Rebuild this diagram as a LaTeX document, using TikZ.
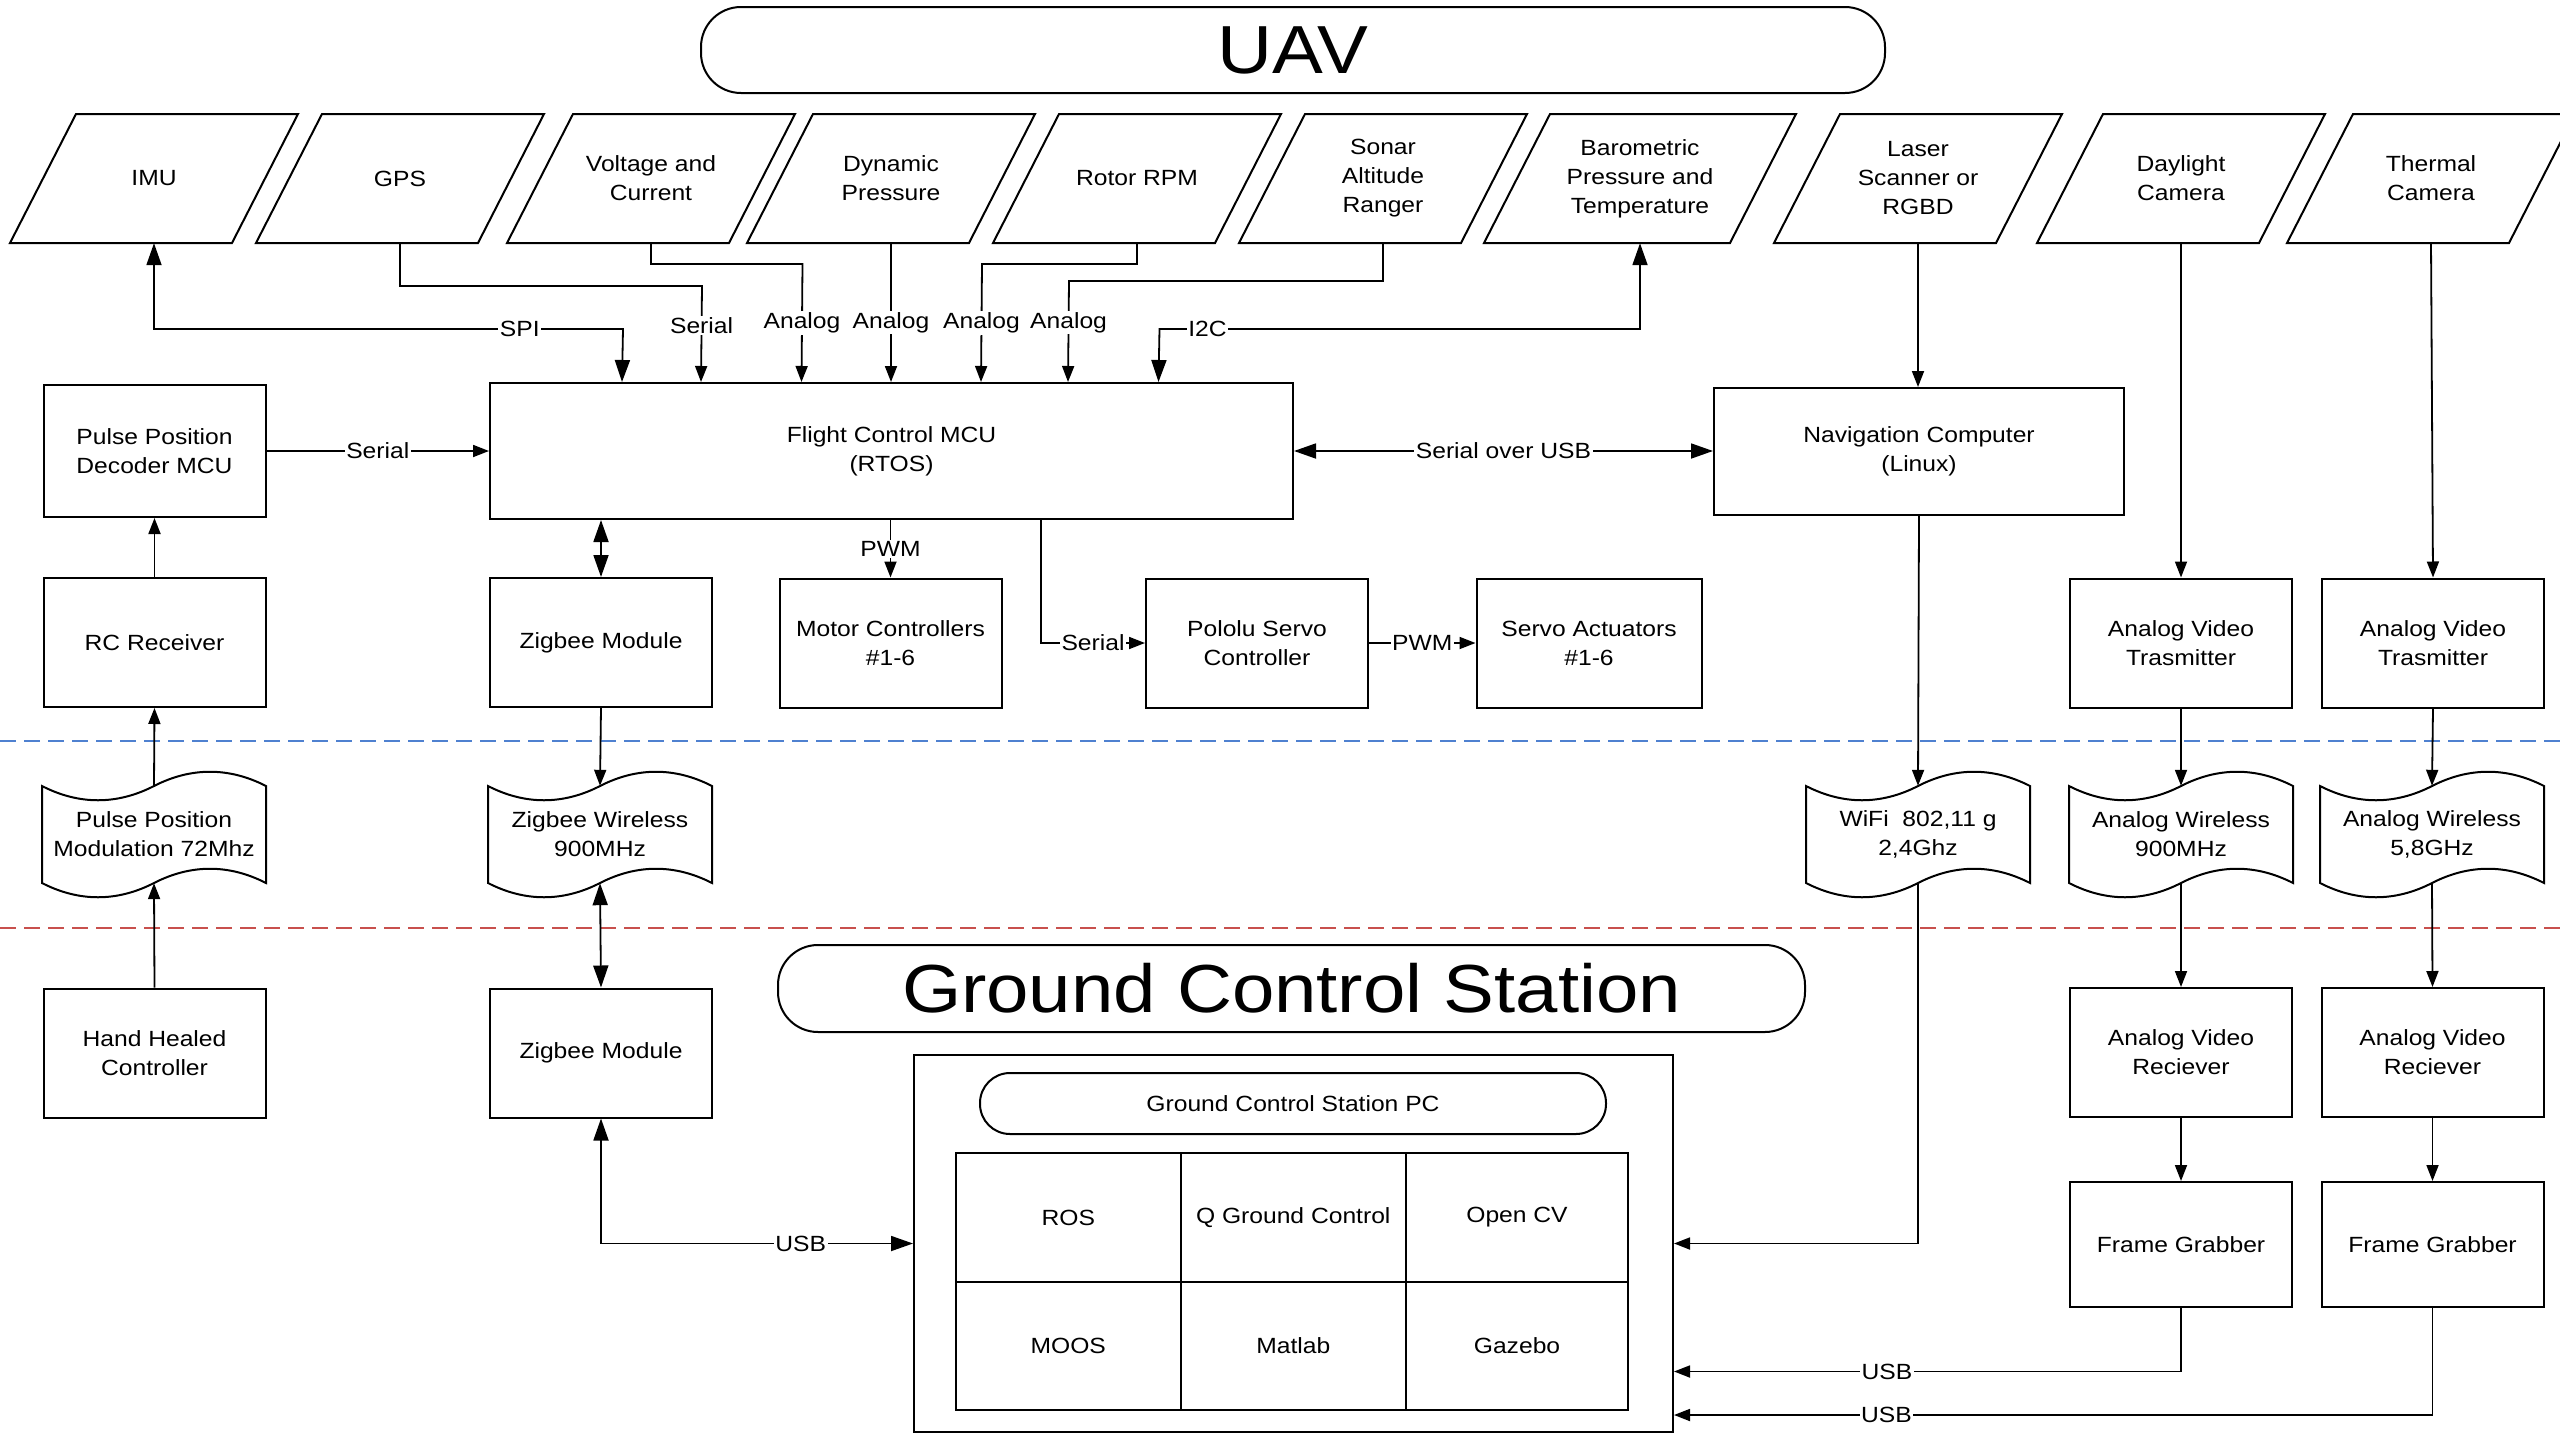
\documentclass[tikz,border=0pt]{standalone}
\usepackage{fontspec}
\setmainfont{Liberation Sans}[FakeStretch=1.12]
\usetikzlibrary{arrows.meta}
\newcommand\lbl{\fontsize{22}{29}\selectfont}
\newcommand\ttl{\fontsize{68}{80}\selectfont}
\definecolor{sepblue}{HTML}{4F81D0}
\definecolor{sepred}{HTML}{C8504D}

\tikzset{
  box/.style={draw, line width=2pt, align=center, font=\lbl,
    minimum width=222pt, minimum height=129pt, inner sep=2pt},
  shapelbl/.style={align=center, font=\lbl, inner sep=0pt, minimum width=200pt},
  outline/.style={line width=2pt, line join=miter},
  arr/.style={line width=1.8pt, -{Triangle[length=16pt,width=12pt]}},
  biarr/.style={line width=1.8pt,
    {Triangle[length=22pt,width=15pt]}-{Triangle[length=22pt,width=15pt]}},
  lab/.style={fill=white, inner sep=1.5pt, font=\lbl},
  pill/.style={draw, line width=2pt, rounded corners=40pt, align=center},
  sep/.style={line width=2.4pt, dash pattern=on 16pt off 8pt},
  cell/.style={draw, line width=2pt, font=\lbl, inner sep=2pt},
}

% sensor parallelogram: name, centre x, half width, text
\newcommand\sensor[4]{%
  \draw[outline] (#2-#3+33,114) -- (#2+#3+33,114) -- (#2+#3-33,243)
    -- (#2-#3-33,243) -- cycle;
  \node[shapelbl, minimum height=129pt] (#1) at (#2,178.5) {#4};}

% radio link (wavy flag): name, centre x, text
\newcommand\radio[3]{%
  \draw[outline] (#2-112,786) .. controls (#2-75,805) and (#2-37,805) .. (#2,786)
    .. controls (#2+37,767) and (#2+75,767) .. (#2+112,786) -- (#2+112,883)
    .. controls (#2+75,864) and (#2+37,864) .. (#2,883)
    .. controls (#2-37,902) and (#2-75,902) .. (#2-112,883) -- cycle;
  \node[shapelbl, minimum height=97pt] (#1) at (#2,834.5) {#3};}

\begin{document}
\begin{tikzpicture}[x=1pt,y=-1pt]
\useasboundingbox (0,0) rectangle (2560,1440);
\fill[white] (0,0) rectangle (2560,1440);

% boundaries between airborne part, radio links and ground part
\draw[sep, sepblue] (0,741) -- (2560,741);
\draw[sep, sepred] (0,928) -- (2560,928);

% titles
\node[pill, minimum width=1184pt, minimum height=86pt, font=\ttl] (uav) at (1293,50) {UAV};
\node[pill, minimum width=1027pt, minimum height=87pt, font=\ttl] (gcstitle) at (1291.5,988.5) {Ground Control Station};

% sensors
\sensor{imu}{154}{111}{IMU}
\sensor{gps}{400}{111}{GPS}
\sensor{volt}{651}{111}{Voltage and\\Current}
\sensor{dyn}{891}{111}{Dynamic\\Pressure}
\sensor{rpm}{1137}{111}{Rotor RPM}
\sensor{sonar}{1383}{111}{Sonar\\Altitude\\Ranger}
\sensor{baro}{1640}{123}{Barometric\\Pressure and\\Temperature}
\sensor{laser}{1918}{111}{Laser\\Scanner or\\RGBD}
\sensor{day}{2181}{111}{Daylight\\Camera}
\sensor{therm}{2431}{111}{Thermal\\Camera}

% airborne units
\node[box, minimum height=132pt] (ppdm) at (154.5,451) {Pulse Position\\Decoder MCU};
\node[box] (rcrx) at (154.5,642.5) {RC Receiver};
\node[box, minimum width=803pt, minimum height=136pt] (fc) at (891.5,451) {Flight Control MCU\\(RTOS)};
\node[box] (zbu) at (601,642.5) {Zigbee Module};
\node[box] (mc) at (890.5,643) {Motor Controllers\\\#1-6};
\node[box] (pololu) at (1257,643) {Pololu Servo\\Controller};
\node[box, minimum width=225pt] (servo) at (1589,643) {Servo Actuators\\\#1-6};
\node[box, minimum width=410pt, minimum height=127pt] (nav) at (1919,451.5) {Navigation Computer\\(Linux)};
\node[box] (avt1) at (2181,643) {Analog Video\\Trasmitter};
\node[box] (avt2) at (2433,643) {Analog Video\\Trasmitter};

% radio links
\radio{ppm}{154}{Pulse Position\\Modulation 72Mhz}
\radio{zbw}{600}{Zigbee Wireless\\900MHz}
\radio{wifi}{1918}{WiFi\ \ 802,11 g\\2,4Ghz}
\radio{aw1}{2181}{Analog Wireless\\900MHz}
\radio{aw2}{2432}{Analog Wireless\\5,8GHz}

% ground units
\node[box] (hhc) at (154.5,1053) {Hand Healed\\Controller};
\node[box] (zbg) at (601,1053) {Zigbee Module};
\node[box] (avr1) at (2181,1052.5) {Analog Video\\Reciever};
\node[box] (avr2) at (2432.5,1052.5) {Analog Video\\Reciever};
\node[box, minimum height=125pt] (fg1) at (2181,1244.5) {Frame Grabber};
\node[box, minimum height=125pt] (fg2) at (2432.5,1244.5) {Frame Grabber};

% ground control station PC
\node[draw, line width=2pt, minimum width=759pt, minimum height=377pt] (gcs) at (1293.5,1243.5) {};
\node[pill, rounded corners=30pt, minimum width=626pt, minimum height=61pt, font=\lbl] (gcspc) at (1293,1103.5) {Ground Control Station PC};
\node[cell, minimum width=224.5pt, minimum height=129pt] (ros) at (1068.25,1217.5) {ROS};
\node[cell, minimum width=225.5pt, minimum height=129pt] (qgc) at (1293.25,1217.5) {Q Ground Control};
\node[cell, minimum width=222pt, minimum height=129pt] (ocv) at (1517,1217.5) {Open CV};
\node[cell, minimum width=224.5pt, minimum height=128pt] (moos) at (1068.25,1346) {MOOS};
\node[cell, minimum width=225.5pt, minimum height=128pt] (matlab) at (1293.25,1346) {Matlab};
\node[cell, minimum width=222pt, minimum height=128pt] (gazebo) at (1517,1346) {Gazebo};

% sensor buses into the flight controller
\draw[biarr] (imu.south) -- (154,329) -- (623,329) node[lab, pos=0.78] {SPI}
  -- ([xshift=133pt]fc.north west);
\draw[arr] (gps.south) -- (400,286) -- (702,286)
  -- node[lab, pos=0.41] {Serial} ([xshift=212pt]fc.north west);
\draw[arr] (volt.south) -- (651,264) -- (802.5,264)
  -- node[lab, pos=0.5] {Analog} ([xshift=312.5pt]fc.north west);
\draw[arr] (dyn.south) -- node[lab, pos=0.57] {Analog} (dyn.south |- fc.north);
\draw[arr] (rpm.south) -- (1137,264) -- (982,264)
  -- node[lab, pos=0.5] {Analog} ([xshift=492pt]fc.north west);
\draw[arr] (sonar.south) -- (1383,281) -- (1069,281)
  -- node[lab, pos=0.41] {Analog} ([xshift=579pt]fc.north west);
\draw[biarr] ([xshift=669.5pt]fc.north west) -- (1159.5,329) -- (1640,329)
  node[lab, pos=0.1] {I2C} -- (baro.south);

% flight controller links
\draw[arr] (ppdm.east) -- node[lab] {Serial} (fc.west);
\draw[arr] (rcrx.north) -- (ppdm.south);
\draw[biarr] (zbu.north |- fc.south) -- (zbu.north);
\draw[arr] (mc.north |- fc.south) -- node[lab] {PWM} (mc.north);
\draw[arr] ([xshift=552pt]fc.south west) |- node[lab, pos=0.75] {Serial} (pololu.west);
\draw[arr] (pololu.east) -- node[lab] {PWM} (servo.west);
\draw[biarr] (fc.east) -- node[lab] {Serial over USB} (nav.west |- fc.east);
\draw[arr] (laser.south) -- (laser.south |- nav.north);

% radio chains
\draw[arr] (hhc.north) -- (ppm.south);
\draw[arr] (ppm.north) -- (rcrx.south);
\draw[arr] (zbu.south) -- (zbw.north);
\draw[biarr] (zbw.south) -- (zbg.north);
\draw[biarr] (zbg.south) |- node[lab, pos=0.82] {USB} (gcs.west);
\draw[arr] (nav.south) -- (wifi.north);
\draw[arr] (wifi.south) |- (gcs.east);

% video chains
\draw[arr] (day.south) -- (avt1.north);
\draw[arr] (avt1.south) -- (aw1.north);
\draw[arr] (aw1.south) -- (avr1.north);
\draw[arr] (avr1.south) -- (fg1.north);
\draw[arr] (fg1.south) |- node[lab, pos=0.79] {USB} ([yshift=-128pt]gcs.east);
\draw[arr] (therm.south) -- (avt2.north);
\draw[arr] (avt2.south) -- (aw2.north);
\draw[arr] (aw2.south) -- (avr2.north);
\draw[arr] (avr2.south) -- (fg2.north);
\draw[arr] (fg2.south) |- node[lab, pos=0.86] {USB} ([yshift=-171.5pt]gcs.east);
\end{tikzpicture}
\end{document}
